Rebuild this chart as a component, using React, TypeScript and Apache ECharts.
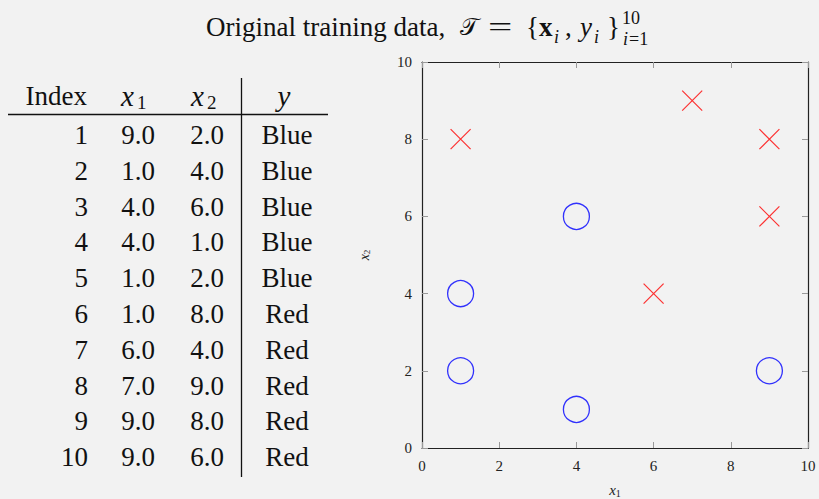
import React, { useEffect, useRef } from "react";
import * as echarts from "echarts";

const indices = [1, 2, 3, 4, 5, 6, 7, 8, 9, 10];
const x1Values = [9, 1, 4, 4, 1, 1, 6, 7, 9, 9];
const x2Values = [2, 4, 6, 1, 2, 8, 4, 9, 8, 6];
const classLabels = ["Blue", "Blue", "Blue", "Blue", "Blue", "Red", "Red", "Red", "Red", "Red"];
const axisTicks = [0, 2, 4, 6, 8, 10];

const SERIF = "'Liberation Serif', 'Times New Roman', serif";
const BG = "#f2f2f2";

function txt(text: string, x: number, y: number, opts: any = {}) {
  return {
    type: "text",
    x,
    y,
    scaleX: opts.scaleX ?? 1,
    silent: true,
    style: {
      text,
      fontSize: opts.size ?? 27,
      fontFamily: opts.family ?? SERIF,
      fontStyle: opts.italic ? "italic" : "normal",
      fontWeight: opts.bold ? "bold" : "normal",
      fill: "#111",
      align: opts.align ?? "left",
      verticalAlign: "middle",
    },
  };
}

export default function App() {
  const ref = useRef<HTMLDivElement>(null);
  useEffect(() => {
    document.body.style.margin = "0";
    const chart = echarts.init(ref.current!, null, { renderer: "svg" });

    const blue: number[][] = [];
    const red: number[][] = [];
    classLabels.forEach((c, i) => {
      (c === "Blue" ? blue : red).push([x1Values[i], x2Values[i]]);
    });

    const g: any[] = [];
    // Title
    g.push(txt("Original training data,", 206, 27));
    g.push(txt("𝒯", 460, 27, { family: "'DejaVu Serif', 'DejaVu Sans', serif", size: 24 }));
    g.push(txt("=", 488, 27, { size: 27, scaleX: 1.6 }));
    g.push(txt("{", 526, 27, { size: 27 }));
    g.push(txt("x", 539, 27, { bold: true }));
    g.push(txt("i", 554, 37, { italic: true, size: 18 }));
    g.push(txt(",", 565, 27));
    g.push(txt("y", 580, 27, { italic: true }));
    g.push(txt("i", 594, 37, { italic: true, size: 18 }));
    g.push(txt("}", 607, 27));
    g.push(txt("10", 622, 18, { size: 18 }));
    g.push(txt("i", 623, 39, { italic: true, size: 18 }));
    g.push(txt("=1", 629, 39, { size: 18 }));

    // Table header
    const headY = 96;
    g.push(txt("Index", 87, headY, { align: "right" }));
    g.push(txt("x", 121, headY, { italic: true, size: 29 }));
    g.push(txt("1", 137, headY + 6, { size: 19 }));
    g.push(txt("x", 191, headY, { italic: true, size: 29 }));
    g.push(txt("2", 207, headY + 6, { size: 19 }));
    g.push(txt("y", 284, headY, { italic: true, align: "center", size: 29 }));
    // rules
    g.push({ type: "line", silent: true, shape: { x1: 8, y1: 114.5, x2: 328, y2: 114.5 }, style: { stroke: "#111", lineWidth: 1.4 } });
    g.push({ type: "line", silent: true, shape: { x1: 241.5, y1: 78, x2: 241.5, y2: 477 }, style: { stroke: "#111", lineWidth: 1.3 } });
    // rows
    indices.forEach((idx, i) => {
      const cy = 135 + i * 35.8;
      g.push(txt(String(idx), 88, cy, { align: "right" }));
      g.push(txt(x1Values[i].toFixed(1), 138, cy, { align: "center" }));
      g.push(txt(x2Values[i].toFixed(1), 207, cy, { align: "center" }));
      g.push(txt(classLabels[i], 287, cy, { align: "center" }));
    });

    const labelStyle = { fontFamily: SERIF, fontSize: 15, color: "#222" };
    const tickStyle = { show: true, inside: true, length: 6, lineStyle: { color: "#999", width: 1 } };
    const lineStyle = { show: true, lineStyle: { color: "#222", width: 1.2 } };

    chart.setOption({
      animation: false,
      backgroundColor: BG,
      grid: { left: 422, right: 11, top: 62, bottom: 51, containLabel: false, outerBoundsMode: "none" },
      graphic: g,
      xAxis: [
        {
          type: "value",
          min: axisTicks[0],
          max: axisTicks[axisTicks.length - 1],
          interval: 2,
          position: "bottom",
          axisLine: { ...lineStyle, onZero: false },
          axisTick: tickStyle,
          splitLine: { show: false },
          axisLabel: { ...labelStyle, margin: 10 },
          name: "{a|x}{b|1}",
          nameLocation: "middle",
          nameGap: 34,
          nameTextStyle: {
            rich: {
              a: { fontFamily: SERIF, fontStyle: "italic", fontSize: 15, color: "#222" },
              b: { fontFamily: SERIF, fontSize: 10, color: "#222", padding: [6, 0, 0, 0] },
            },
          },
        },
        {
          type: "value",
          min: axisTicks[0],
          max: axisTicks[axisTicks.length - 1],
          interval: 2,
          position: "top",
          axisLine: { ...lineStyle, onZero: false },
          axisTick: tickStyle,
          splitLine: { show: false },
          axisLabel: { show: false },
        },
      ],
      yAxis: [
        {
          type: "value",
          min: axisTicks[0],
          max: axisTicks[axisTicks.length - 1],
          interval: 2,
          position: "left",
          axisLine: { ...lineStyle, onZero: false },
          axisTick: tickStyle,
          splitLine: { show: false },
          axisLabel: { ...labelStyle, margin: 10 },
          name: "{a|x}{b|2}",
          nameLocation: "middle",
          nameGap: 51,
          nameTextStyle: {
            rich: {
              a: { fontFamily: SERIF, fontStyle: "italic", fontSize: 14, color: "#222" },
              b: { fontFamily: SERIF, fontSize: 9, color: "#222", padding: [5, 0, 0, 0] },
            },
          },
        },
        {
          type: "value",
          min: axisTicks[0],
          max: axisTicks[axisTicks.length - 1],
          interval: 2,
          position: "right",
          axisLine: { ...lineStyle, onZero: false },
          axisTick: tickStyle,
          splitLine: { show: false },
          axisLabel: { show: false },
        },
      ],
      series: [
        {
          type: "scatter",
          name: "Blue",
          data: blue,
          xAxisIndex: 0,
          yAxisIndex: 0,
          symbol: "circle",
          symbolSize: 26,
          itemStyle: { color: "transparent", borderColor: "#0000ff", borderWidth: 1.3 },
          emphasis: { disabled: true },
        },
        {
          type: "scatter",
          name: "Red",
          data: red,
          xAxisIndex: 0,
          yAxisIndex: 0,
          symbol: "path://M0,0L10,10M10,0L0,10",
          symbolSize: 20,
          itemStyle: { color: "transparent", borderColor: "#ff0000", borderWidth: 1.2 },
          emphasis: { disabled: true },
        },
      ],
    });
    return () => chart.dispose();
  }, []);
  return (
    <div
      ref={ref}
      style={{ position: "fixed", left: 0, top: 0, width: 819, height: 499, background: BG }}
    />
  );
}
